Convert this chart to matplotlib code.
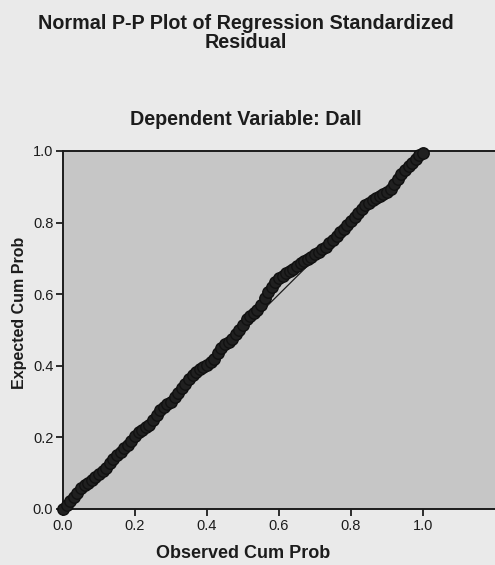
## Normal P-P plot of regression standardized residual (SPSS-style)

import matplotlib
matplotlib.use("Agg")
import matplotlib.pyplot as plt

# observed vs expected cumulative probabilities
observed = [0.00, 0.01, 0.02, 0.03, 0.04, 0.05, 0.06, 0.07, 0.08, 0.09,
            0.10, 0.11, 0.12, 0.13, 0.14, 0.15, 0.16, 0.17, 0.18, 0.19,
            0.20, 0.21, 0.22, 0.23, 0.24, 0.25, 0.26, 0.27, 0.28, 0.29,
            0.30, 0.31, 0.32, 0.33, 0.34, 0.35, 0.36, 0.37, 0.38, 0.39,
            0.40, 0.41, 0.42, 0.43, 0.44, 0.45, 0.46, 0.47, 0.48, 0.49,
            0.50, 0.51, 0.52, 0.53, 0.54, 0.55, 0.56, 0.57, 0.58, 0.59,
            0.60, 0.61, 0.62, 0.63, 0.64, 0.65, 0.66, 0.67, 0.68, 0.69,
            0.70, 0.71, 0.72, 0.73, 0.74, 0.75, 0.76, 0.77, 0.78, 0.79,
            0.80, 0.81, 0.82, 0.83, 0.84, 0.85, 0.86, 0.87, 0.88, 0.89,
            0.90, 0.91, 0.92, 0.93, 0.94, 0.95, 0.96, 0.97, 0.98, 0.99,
            1.00]
expected = [0.000, 0.010, 0.022, 0.033, 0.045, 0.058, 0.066, 0.073, 0.080, 0.090,
            0.098, 0.105, 0.115, 0.128, 0.140, 0.150, 0.160, 0.170, 0.178, 0.190,
            0.203, 0.215, 0.222, 0.228, 0.236, 0.248, 0.262, 0.276, 0.285, 0.292,
            0.300, 0.312, 0.325, 0.338, 0.350, 0.362, 0.373, 0.384, 0.392, 0.398,
            0.403, 0.410, 0.418, 0.435, 0.450, 0.460, 0.466, 0.475, 0.488, 0.500,
            0.515, 0.530, 0.540, 0.548, 0.556, 0.570, 0.590, 0.605, 0.620, 0.635,
            0.645, 0.652, 0.658, 0.664, 0.670, 0.678, 0.686, 0.692, 0.698, 0.705,
            0.712, 0.718, 0.725, 0.732, 0.742, 0.752, 0.763, 0.773, 0.782, 0.792,
            0.805, 0.815, 0.826, 0.838, 0.848, 0.856, 0.862, 0.868, 0.874, 0.880,
            0.886, 0.895, 0.908, 0.922, 0.935, 0.947, 0.957, 0.966, 0.978, 0.988,
            0.995]
ref_line = [0.0, 1.0]
ticks = [0.0, 0.2, 0.4, 0.6, 0.8, 1.0]

plt.rcParams["font.family"] = ["Liberation Sans", "DejaVu Sans"]
ink = "#1c1c1c"

fig = plt.figure(figsize=(4.95, 5.65), dpi=100, facecolor="#eaeaea")
ax = fig.add_axes([63 / 495, 56 / 565, 432 / 495, 358 / 565])
ax.set_facecolor("#c6c6c6")

# diagonal reference line
ax.plot(ref_line, ref_line, color=ink, lw=0.9, zorder=2)

# points: dark circles, heavily overlapped into a thick band
ax.scatter(observed, expected, s=68, facecolors="#202020", edgecolors="#111111",
           linewidths=1.0, zorder=3, clip_on=False)

ax.set_xlim(0, 1.2)
ax.set_ylim(0, 1.0)
ax.set_xticks(ticks)
ax.set_yticks(ticks)
ax.set_xticklabels([f"{t:.1f}" for t in ticks])
ax.set_yticklabels([f"{t:.1f}" for t in ticks])
ax.tick_params(direction="out", length=5, width=1.3, colors=ink,
               labelsize=10.5, pad=2)

for s in ["left", "bottom", "top"]:
    ax.spines[s].set_linewidth(1.4)
    ax.spines[s].set_color(ink)
ax.spines["right"].set_visible(False)

# titles and axis labels
fig.text(0.497, 0.976, "Normal P-P Plot of Regression Standardized\nResidual",
         ha="center", va="top", fontsize=14.2, fontweight="bold", color=ink,
         linespacing=1.0)
fig.text(0.497, 0.788, "Dependent Variable: Dall", ha="center", va="center",
         fontsize=14.2, fontweight="bold", color=ink)
fig.text(243 / 495, 1 - 553 / 565, "Observed Cum Prob", ha="center",
         va="center", fontsize=13, fontweight="bold", color=ink)
fig.text(20 / 495, 1 - 313 / 565, "Expected Cum Prob", ha="center",
         va="center", rotation=90, fontsize=11.5, fontweight="bold", color=ink)

fig.savefig("out.png", dpi=100, facecolor=fig.get_facecolor())
